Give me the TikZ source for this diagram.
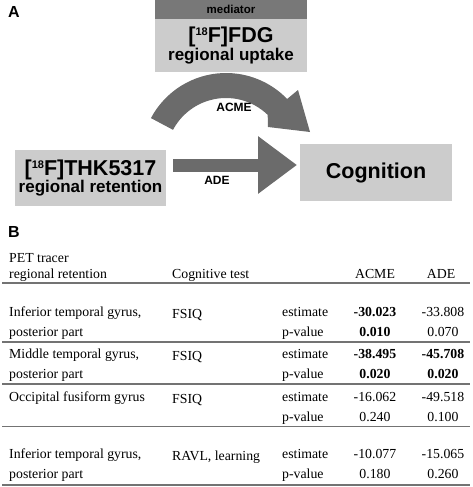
\documentclass[tikz,border=0pt]{standalone}
\usepackage{fontspec}
\setmainfont{Liberation Serif}
\newfontfamily\figfont{Liberation Sans}
\usetikzlibrary{calc}
\usetikzlibrary{arrows.meta}

\definecolor{boxgray}{gray}{0.80}
\definecolor{headgray}{gray}{0.47}
\definecolor{arrowgray}{gray}{0.42}
\definecolor{rulegray}{gray}{0.45}

\newcommand{\isoup}[1]{\raisebox{7pt}{\fontsize{11}{11}\selectfont #1}}

\tikzset{
  box/.style={fill=boxgray, inner sep=0, outer sep=0, align=center, font=\figfont\bfseries},
  fatarrow/.style={arrowgray, line width=13pt, -{Triangle[length=39pt,width=55pt]}},
  lbl/.style={font=\figfont\bfseries\fontsize{12}{14}\selectfont, inner sep=0},
  panel/.style={font=\figfont\bfseries\fontsize{16}{18}\selectfont, anchor=base west, inner sep=0},
  tab/.style={font=\fontsize{13.8}{16}\selectfont, inner sep=0, anchor=base west},
  num/.style={font=\fontsize{13.8}{16}\selectfont, inner sep=0, anchor=base},
  tabrule/.style={rulegray, line width=1.2pt},
}

\begin{document}
\begin{tikzpicture}[x=1pt,y=-1pt]
\useasboundingbox (0,0) rectangle (472,487);

% A: mediation model
\node[panel] (labA) at (8,18) {A};
\node[box, fill=headgray, minimum width=152pt, minimum height=19pt, font=\figfont\bfseries\fontsize{11.5}{13}\selectfont] (medhead) at (231,9.5) {mediator};
\node[box, anchor=north, minimum width=152pt, minimum height=53pt] (fdg) at (medhead.south)
  {{\fontsize{21.5}{22}\selectfont [\isoup{18}F]FDG}\\ \fontsize{17}{20}\selectfont regional uptake};
\node[box, minimum width=151pt, minimum height=56pt] (thk) at (90.5,178)
  {{\fontsize{21.5}{22}\selectfont [\isoup{18}F]THK5317}\\ \fontsize{17}{19}\selectfont regional retention};
\node[box, minimum width=152pt, minimum height=57pt, font=\figfont\bfseries\fontsize{21.5}{24}\selectfont] (cog) at (376,172.5) {Cognition};

% direct effect
\draw[fatarrow] ($(thk.east)+(7,-13)$) -- ($(cog.west)+(-3,-7.5)$);
\node[lbl] (ade) at (217,180) {ADE};

% mediated effect
\coordinate (c) at (226,158);
\fill[arrowgray] ($(c)+(-152:85)$) arc[start angle=-152, end angle=-44, radius=85]
  -- ($(c)+(72,-68)$) -- ($(c)+(84,-26)$) -- ($(c)+(42,-31)$)
  -- ($(c)+(-46:60)$) arc[start angle=-46, end angle=-152, radius=60] -- cycle;
\node[lbl] (acme) at (234,107) {ACME};

% B: table
\node[panel] (labB) at (8,237) {B};
\node[tab] (h1) at (9,262) {PET tracer};
\node[tab] (h2) at (9,278) {regional retention};
\node[tab] (h3) at (172,278) {Cognitive test};
\node[num] (h4) at (375,278) {ACME};
\node[num] (h5) at (441,278) {ADE};
\draw[tabrule] (2,283) -- (470,283);

\node[tab] (r1a) at (9,316) {Inferior temporal gyrus,};
\node[tab] (r1b) at (9,336) {posterior part};
\node[tab] (r1c) at (172,318) {FSIQ};
\node[tab] (r1d) at (282,316) {estimate};
\node[tab] (r1e) at (282,336) {p-value};
\node[num] (r1f) at (375,316) {\bfseries -30.023};
\node[num] (r1g) at (443,316) {-33.808};
\node[num] (r1h) at (375,336) {\bfseries 0.010};
\node[num] (r1i) at (443,336) {0.070};
\draw[tabrule] (2,342) -- (470,342);

\node[tab] (r2a) at (9,358) {Middle temporal gyrus,};
\node[tab] (r2b) at (9,378) {posterior part};
\node[tab] (r2c) at (172,360) {FSIQ};
\node[tab] (r2d) at (282,358) {estimate};
\node[tab] (r2e) at (282,378) {p-value};
\node[num] (r2f) at (375,358) {\bfseries -38.495};
\node[num] (r2g) at (443,358) {\bfseries -45.708};
\node[num] (r2h) at (375,378) {\bfseries 0.020};
\node[num] (r2i) at (443,378) {\bfseries 0.020};
\draw[tabrule] (2,384) -- (470,384);

\node[tab] (r3a) at (9,401) {Occipital fusiform gyrus};
\node[tab] (r3c) at (172,403) {FSIQ};
\node[tab] (r3d) at (282,401) {estimate};
\node[tab] (r3e) at (282,421) {p-value};
\node[num] (r3f) at (375,401) {-16.062};
\node[num] (r3g) at (443,401) {-49.518};
\node[num] (r3h) at (375,421) {0.240};
\node[num] (r3i) at (443,421) {0.100};
\draw[tabrule] (2,426.5) -- (470,426.5);

\node[tab] (r4a) at (9,458) {Inferior temporal gyrus,};
\node[tab] (r4b) at (9,478) {posterior part};
\node[tab] (r4c) at (172,460) {RAVL, learning};
\node[tab] (r4d) at (282,458) {estimate};
\node[tab] (r4e) at (282,478) {p-value};
\node[num] (r4f) at (375,458) {-10.077};
\node[num] (r4g) at (443,458) {-15.065};
\node[num] (r4h) at (375,478) {0.180};
\node[num] (r4i) at (443,478) {0.260};
\draw[tabrule] (2,485) -- (470,485);
\end{tikzpicture}
\end{document}
